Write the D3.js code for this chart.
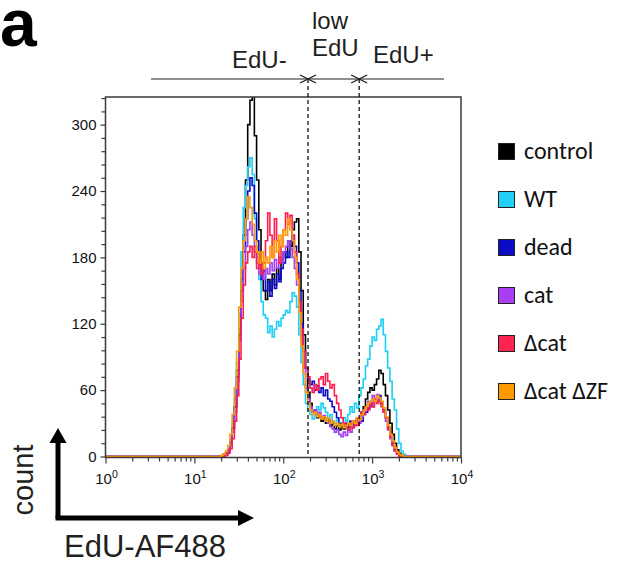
<!DOCTYPE html>
<html><head><meta charset="utf-8">
<script src="https://cdn.jsdelivr.net/npm/d3@7"></script>
<style>body{margin:0;background:#fff}svg{display:block}</style>
</head><body><svg id="c" width="625" height="566"></svg>
<script>
// ---------- data ----------
const seriesNames  = ["control", "WT", "dead", "cat", "Δcat", "Δcat ΔZF"];
const lineColors   = ["#000000", "#1ccff5", "#0a0ac8", "#a23ef6", "#ff1c4c", "#ff9a00"];
const legendColors = ["#000000", "#22d0f7", "#0c0cc8", "#a93ff5", "#ff2452", "#ff9900"];
// histogram bins: log10(EdU) from 1.30, width 0.025 decade
const binStartLog = 1.30;
const binWidthLog = 0.025;
const control = [0,1,2,5,12,26,45,78,115,160, 200,250,300,322,335,290,250,205,175,150,
  142,160,150,165,155,170,160,175,185,180, 195,190,205,212,215,185,150,110,80,58,
  48,40,42,35,38,32,35,30,33,28, 30,25,28,24,27,25,28,26,30,28,
  32,35,33,40,45,52,58,62,60,65, 70,78,75,65,55,42,30,20,12,6, 3,1,0,0,0,0,0];
const wt = [0,1,3,7,15,30,52,85,130,185, 225,245,262,270,255,215,180,160,140,128,
  125,112,118,108,115,122,118,125,128,132, 130,140,148,145,135,110,85,65,48,42,
  38,34,38,45,42,48,44,40,35,38, 32,30,33,28,30,35,32,38,45,40,
  48,44,55,62,70,82,88,100,108,105, 115,118,124,110,95,80,68,52,42,25, 12,5,2,0,0,0,0];
const dead = [0,2,3,6,13,25,45,72,110,150, 185,215,240,252,245,220,195,175,160,168,
  150,158,145,160,152,165,158,170,175,185, 180,195,200,190,175,150,120,95,80,70,
  65,68,60,64,58,62,55,60,52,50, 45,40,35,30,28,26,30,27,32,28,
  30,33,35,32,38,40,44,48,45,52, 50,55,48,42,35,26,18,12,6,3, 1,0,0,0,0,0,0];
const cat = [0,1,2,4,10,22,40,68,105,140, 170,190,205,212,200,185,175,165,172,160,
  170,165,175,168,178,170,180,175,185,190, 195,188,180,170,155,135,105,80,62,52,
  45,40,42,38,40,35,37,32,30,27, 25,22,24,20,18,22,19,24,22,26,
  28,32,30,36,42,45,50,48,55,52, 56,50,47,40,32,24,16,10,5,3, 1,0,0,0,0,0,0];
const dcat = [0,0,1,3,7,16,32,55,88,125, 155,175,185,190,180,190,170,180,165,175,
  195,220,200,180,215,195,175,190,205,220, 210,218,200,185,165,140,115,95,80,72,
  62,58,65,60,70,72,65,75,68,62, 65,55,48,42,35,30,28,24,30,26,
  32,28,35,40,38,45,42,48,45,52, 48,50,45,40,35,25,18,10,5,2, 0,0,0,0,0,0,0];
const dcatdzf = [1,2,5,10,20,38,62,95,135,170, 195,215,235,225,210,195,185,175,185,170,
  180,175,190,180,195,185,200,190,205,200, 215,205,195,180,160,130,100,75,58,48,
  42,38,40,36,38,34,36,32,35,30, 32,28,30,27,29,26,28,30,28,32,
  30,35,33,38,42,45,48,50,52,50, 55,53,50,44,36,28,20,14,8,4, 2,1,0,0,0,0,0];
const seriesValues = [control, wt, dead, cat, dcat, dcatdzf];
const yTicks = [0, 60, 120, 180, 240, 300];
const yMinorStep = 12;
const xTickExps = [0, 1, 2, 3, 4];
const gates = [190, 715];

// ---------- layout ----------
const svg = d3.select("#c");
const L = 105.5, R = 461, T = 97, B = 457.5;
const x = d3.scaleLog().domain([1, 1e4]).range([L, R]);
const y = d3.scaleLinear().domain([0, 325]).range([456.5, T]);
const txt = "#231f20";

// "a"
svg.append("text").attr("x", 0).attr("y", 46).attr("font-family", "Liberation Sans, Arial, sans-serif")
  .attr("font-weight", "bold").attr("font-size", 66).attr("fill", "#000").text("a");

// clip
svg.append("defs").append("clipPath").attr("id", "clip")
  .append("rect").attr("x", L).attr("y", T).attr("width", R - L).attr("height", B - T);

// series lines
const line = d3.line().x(d => x(d[0])).y(d => y(d[1])).curve(d3.curveStepAfter);
const g = svg.append("g").attr("clip-path", "url(#clip)");
seriesValues.forEach((vals, si) => {
  const pts = [[1, 0]];
  vals.forEach((v, i) => pts.push([Math.pow(10, binStartLog + binWidthLog * i), v]));
  pts.push([Math.pow(10, binStartLog + binWidthLog * vals.length), 0]);
  pts.push([1e4, 0]);
  g.append("path").attr("d", line(pts)).attr("fill", "none")
    .attr("stroke", lineColors[si]).attr("stroke-width", 1.6).attr("stroke-linejoin", "miter");
});

// frame
svg.append("rect").attr("x", L).attr("y", T).attr("width", R - L).attr("height", B - T)
  .attr("fill", "none").attr("stroke", "#3a3a3a").attr("stroke-width", 1.5);

// y axis
const yMinor = d3.range(0, 325, yMinorStep).filter(v => !yTicks.includes(v));
const yAxMinor = svg.append("g").attr("transform", `translate(${L},0)`)
  .call(d3.axisLeft(y).tickValues(yMinor).tickSize(4).tickFormat(""));
const yAx = svg.append("g").attr("transform", `translate(${L},0)`)
  .call(d3.axisLeft(y).tickValues(yTicks).tickSize(5).tickPadding(4));
[yAx, yAxMinor].forEach(a => {
  a.select(".domain").remove();
  a.selectAll("line").attr("stroke", "#3a3a3a").attr("stroke-width", 1.2);
});
yAx.selectAll("text").attr("font-family", "Liberation Sans, Arial, sans-serif")
  .attr("font-size", 15).attr("fill", "#111");

// x axis
const xMinor = [];
xTickExps.slice(0, -1).forEach(e => { for (let k = 2; k <= 9; k++) xMinor.push(k * Math.pow(10, e)); });
const xAxMinor = svg.append("g").attr("transform", `translate(0,${B})`)
  .call(d3.axisBottom(x).tickValues(xMinor).tickSize(4).tickFormat(""));
const xAx = svg.append("g").attr("transform", `translate(0,${B})`)
  .call(d3.axisBottom(x).tickValues(xTickExps.map(e => Math.pow(10, e))).tickSize(6).tickFormat(""));
[xAx, xAxMinor].forEach(a => {
  a.select(".domain").remove();
  a.selectAll("line").attr("stroke", "#3a3a3a").attr("stroke-width", 1.2);
});
xTickExps.forEach(e => {
  const t = svg.append("text").attr("x", x(Math.pow(10, e)) + 1).attr("y", 484)
    .attr("text-anchor", "middle").attr("font-family", "Liberation Sans, Arial, sans-serif")
    .attr("font-size", 15).attr("fill", "#111");
  t.append("tspan").text("10");
  t.append("tspan").attr("dy", -6).attr("font-size", 10.5).text(e);
});

// gates
const ay = 79;
svg.append("line").attr("x1", 151).attr("x2", 444).attr("y1", ay).attr("y2", ay)
  .attr("stroke", txt).attr("stroke-width", 1.1);
gates.forEach(gv => {
  const gx = x(gv);
  svg.append("line").attr("x1", gx).attr("x2", gx).attr("y1", ay).attr("y2", 457)
    .attr("stroke", "#000").attr("stroke-width", 1.2).attr("stroke-dasharray", "4,3");
  svg.append("path").attr("d", `M${gx - 8},${ay - 4}L${gx},${ay}L${gx - 8},${ay + 4}`)
    .attr("fill", "none").attr("stroke", txt).attr("stroke-width", 1.3);
  svg.append("path").attr("d", `M${gx + 8},${ay - 4}L${gx},${ay}L${gx + 8},${ay + 4}`)
    .attr("fill", "none").attr("stroke", txt).attr("stroke-width", 1.3);
});
const gateText = [["EdU-", 232, 68], ["low", 312, 29], ["EdU", 312, 56], ["EdU+", 373, 63]];
gateText.forEach(([s, tx, ty]) => svg.append("text").attr("x", tx).attr("y", ty)
  .attr("font-family", "Liberation Sans, Arial, sans-serif").attr("font-size", 24)
  .attr("fill", txt).text(s));

// legend
seriesNames.forEach((n, i) => {
  const ly = 143 + i * 48;
  svg.append("rect").attr("x", 498.5).attr("y", ly + 0.5).attr("width", 16).attr("height", 16)
    .attr("fill", legendColors[i]).attr("stroke", "#222").attr("stroke-width", 1);
  svg.append("text").attr("x", 524).attr("y", ly + 16).attr("font-family", "Carlito, Lato, sans-serif")
    .attr("font-size", 24).attr("fill", "#111").text(n);
});

// big axis arrows
svg.append("path").attr("d", "M58,518V442").attr("stroke", "#000").attr("stroke-width", 5).attr("fill", "none");
svg.append("path").attr("d", "M49.5,443L58,428L66.5,443Z").attr("fill", "#000");
svg.append("path").attr("d", "M55.5,518H240").attr("stroke", "#000").attr("stroke-width", 5).attr("fill", "none");
svg.append("path").attr("d", "M238,510L254,518L238,526Z").attr("fill", "#000");
svg.append("text").attr("transform", "translate(33,480) rotate(-90)").attr("text-anchor", "middle")
  .attr("font-family", "Liberation Sans, Arial, sans-serif").attr("font-size", 29).attr("fill", txt).text("count");
svg.append("text").attr("x", 64).attr("y", 557)
  .attr("font-family", "Liberation Sans, Arial, sans-serif").attr("font-size", 31).attr("fill", txt).text("EdU-AF488");
</script></body></html>
